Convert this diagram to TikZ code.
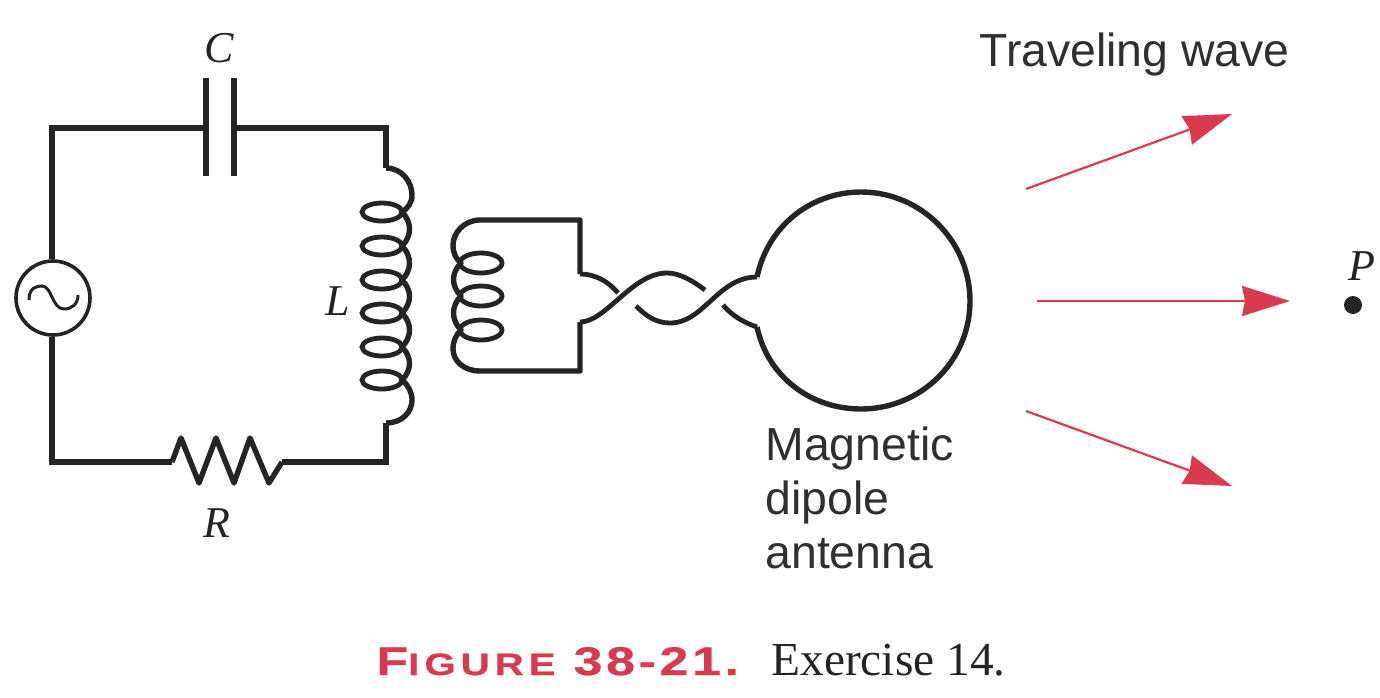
\documentclass[tikz,border=0pt]{standalone}
\usepackage{fontspec}
\setmainfont{Liberation Sans}
\newfontfamily\serifface{Liberation Serif}
\newfontfamily\capbig[FakeStretch=1.3,FakeBold=0.6,LetterSpace=9]{Liberation Sans Bold}
\newfontfamily\capsmall[FakeStretch=1.3,FakeBold=0.6,LetterSpace=16]{Liberation Sans Bold}
\usetikzlibrary{arrows.meta}
\definecolor{wirec}{HTML}{262324}
\definecolor{wavered}{HTML}{D93A50}
\tikzset{
  x=0.5pt,y=-0.5pt,
  wire/.style={draw=wirec,line width=2.7pt,line join=miter},
  twist/.style={draw=wirec,line width=2.4pt,line cap=butt},
  wavearrow/.style={draw=wavered,line width=1.1pt,-{Stealth[length=24pt,width=15pt,inset=1.5pt,fill=wavered]}},
  sans/.style={inner sep=0pt,text=wirec!95,font=\fontsize{23.2}{27}\selectfont},
  symb/.style={inner sep=0pt,text=wirec,font=\serifface\itshape\fontsize{22}{24}\selectfont},
}
\begin{document}
\begin{tikzpicture}
\useasboundingbox (0,0) rectangle (1380,697);
\coordinate (tl) at (52,128); \coordinate (tr) at (386,128);
\coordinate (bl) at (52,462); \coordinate (br) at (386,462);
\coordinate (c1) at (206,128); \coordinate (c2) at (234,128);
\coordinate (r1) at (172,462); \coordinate (r2) at (282,462);
\coordinate (lt) at (386,168); \coordinate (lb) at (386,423);
\node[draw=wirec,line width=1.8pt,circle,minimum size=37pt,inner sep=0pt] (src) at (53,298) {};
\draw[draw=wirec,line width=1.5pt] (29,300) .. controls (29,288) and (36,286) .. (42,286) .. controls (52,286) and (52,309) .. (64,309) .. controls (72,309) and (78,304) .. (78,295);
\draw[wire] (src.north -| tl) -- (tl) -- (c1);
\draw[wire] (c2) -- (tr) -- (lt);
\draw[wire] (src.south -| bl) -- (bl) -- (r1);
\draw[wire] (r2) -- (br) -- (lb);
\coordinate (p1a) at (206,78); \coordinate (p1b) at (206,176);
\coordinate (p2a) at (234,78); \coordinate (p2b) at (234,176);
\draw[wire] (p1a) -- (p1b);
\draw[wire] (p2a) -- (p2b);
\draw[wire,line join=round] (r1) -- (181,438) -- (199,483) -- (216,438) -- (234,483) -- (250,438) -- (269,483) -- (r2);
\foreach \i/\y in {1/212,2/246,3/280,4/313,5/347,6/380}
  \draw[draw=wirec,line width=2.4pt] (382,\y) ellipse [x radius=20,y radius=9];
\draw[wire,line join=round] (lt) .. controls (402,168) and (412,182) .. (412,195) .. controls (412,203) and (408,208) .. (402,212)
  .. controls (412,222) and (412,236) .. (402,246)
  .. controls (412,256) and (412,270) .. (402,280)
  .. controls (412,290) and (412,303) .. (402,313)
  .. controls (412,323) and (412,337) .. (402,347)
  .. controls (412,357) and (412,370) .. (402,380)
  .. controls (408,385) and (412,392) .. (412,400) .. controls (412,412) and (402,423) .. (lb);
\foreach \i/\y in {1/263,2/296,3/330}
  \draw[draw=wirec,line width=2.4pt] (481,\y) ellipse [x radius=21,y radius=10];
\coordinate (st) at (580,220); \coordinate (sb) at (580,371);
\coordinate (sa) at (580,274); \coordinate (sc) at (580,322);
\draw[wire,line join=round] (sa) -- (st) -- (480,220) .. controls (464,220) and (453,233) .. (453,245) .. controls (453,253) and (456,259) .. (461,263)
  .. controls (451,273) and (451,286) .. (461,296)
  .. controls (451,306) and (451,320) .. (461,330)
  .. controls (456,335) and (453,341) .. (453,349) .. controls (453,361) and (464,371) .. (480,371) -- (sb) -- (sc);
\draw[twist] (sa) .. controls (595,274) and (608,281) .. (618,293);
\draw[twist] (sc) .. controls (606,322) and (632,273) .. (667,273) .. controls (680,273) and (693,281) .. (705,290);
\draw[twist] (636,306) .. controls (646,316) and (656,323) .. (670,323) .. controls (704,323) and (718,277) .. (757,277);
\draw[twist] (723,305) .. controls (732,316) and (745,323) .. (757,327);
\coordinate (la) at (757,277); \coordinate (lc) at (757,327);
\draw[wire] (la) .. controls (768,225) and (812,192) .. (861,192) .. controls (921,192) and (970,241) .. (970,301) .. controls (970,361) and (921,409) .. (861,409) .. controls (812,409) and (768,378) .. (lc);
\coordinate (a1) at (1026,189); \coordinate (a1e) at (1232,114);
\coordinate (a2) at (1037,301); \coordinate (a2e) at (1290,301);
\coordinate (a3) at (1026,411); \coordinate (a3e) at (1232,486);
\draw[wavearrow] (a1) -- (a1e);
\draw[wavearrow] (a2) -- (a2e);
\draw[wavearrow] (a3) -- (a3e);
\fill[wirec] (1353,305) circle [radius=9];
\node[symb,anchor=base] (lC) at (219,62) {C};
\node[symb,anchor=base] (lL) at (338,315) {L};
\node[symb,anchor=base] (lR) at (217,537) {R};
\node[symb,anchor=base] (lP) at (1362,280) {P};
\node[sans,anchor=base west] (tw) at (979,66) {Traveling wave};
\node[sans,anchor=north west,align=left] (md) at (765,426) {Magnetic\\dipole\\antenna};
\node[inner sep=0pt,anchor=base west,text=wavered] (fig) at (376,675) {\capbig\fontsize{20}{20}\selectfont F\capsmall\fontsize{15.5}{20}\selectfont IGURE\hspace{9pt}\capbig\fontsize{20}{20}\selectfont 38-21.};
\node[inner sep=0pt,anchor=base west,text=wirec,font=\serifface\fontsize{23.7}{24}\selectfont] (ex) at (771,675) {Exercise 14.};
\end{tikzpicture}
\end{document}
